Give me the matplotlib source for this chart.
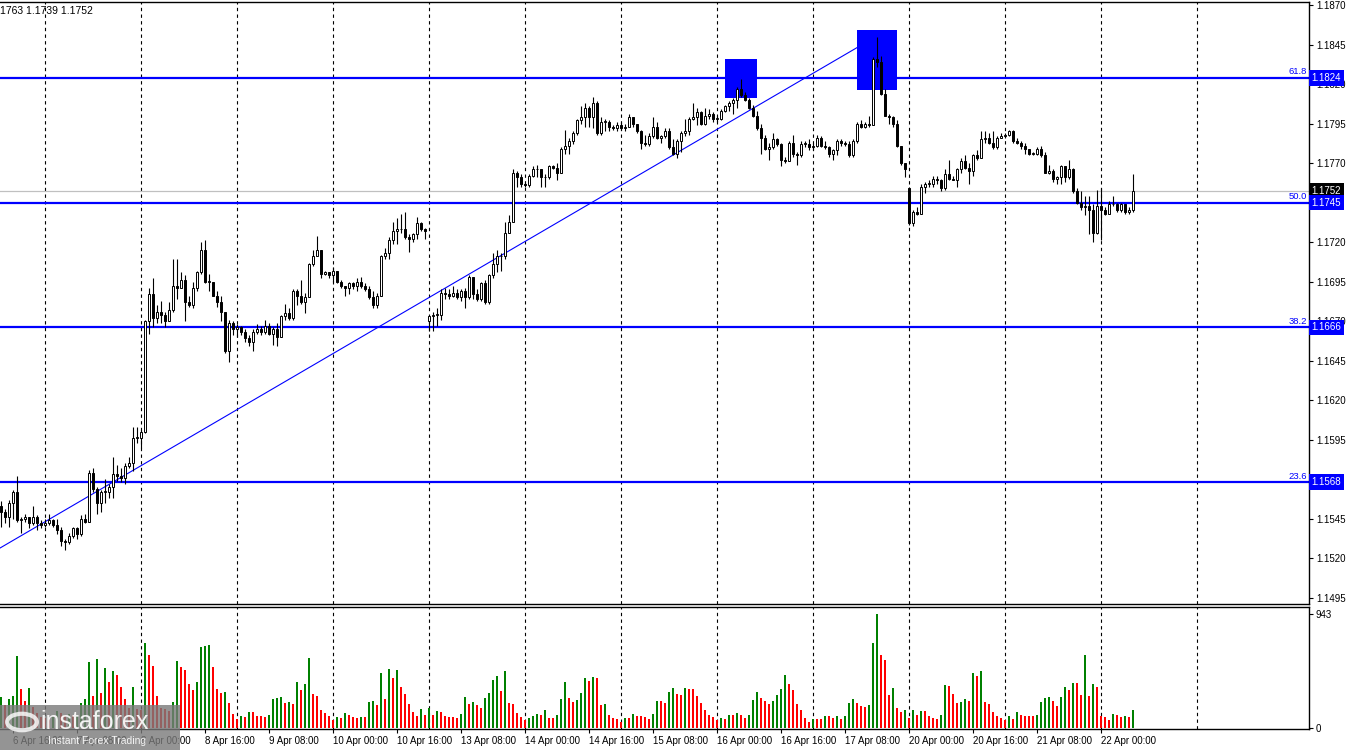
import matplotlib
matplotlib.use("Agg")
import matplotlib.pyplot as plt
import matplotlib.transforms as mtransforms
from matplotlib.patches import Rectangle, Circle
import numpy as np

# EURUSD H1, 6 Apr 13:00 .. 22 Apr 08:00 (one value per hourly candle)
# prices kept in pips above 1.1000, e.g. 549 -> 1.1549
close_pips = [
    549, 546, 555, 562, 544, 545, 546, 542, 546, 542,
    541, 542, 544, 541, 538, 531, 530, 534, 539, 535,
    545, 543, 574, 564, 555, 562, 562, 565, 573, 572,
    571, 578, 580, 596, 596, 600, 670, 687, 672, 676,
    674, 670, 677, 692, 691, 696, 682, 680, 691, 701,
    715, 695, 695, 686, 682, 676, 651, 669, 665, 666,
    663, 659, 657, 663, 665, 663, 667, 662, 665, 660,
    673, 675, 672, 689, 686, 682, 685, 706, 711, 715,
    700, 701, 699, 702, 695, 692, 691, 694, 692, 695,
    692, 690, 685, 680, 686, 711, 713, 721, 727, 728,
    728, 723, 722, 725, 732, 728, 727, 673, 674, 674,
    688, 687, 686, 688, 685, 689, 685, 698, 687, 684,
    694, 682, 699, 706, 711, 711, 726, 733, 764, 761,
    757, 756, 762, 766, 766, 761, 761, 768, 767, 764,
    779, 781, 784, 789, 797, 799, 805, 799, 808, 789,
    796, 796, 793, 792, 794, 792, 793, 799, 795, 790,
    783, 782, 787, 793, 786, 787, 790, 780, 776, 784,
    789, 790, 798, 799, 802, 795, 800, 801, 798, 798,
    803, 806, 808, 810, 817, 813, 810, 805, 800, 792,
    786, 779, 780, 785, 782, 772, 771, 783, 776, 775,
    782, 782, 780, 781, 786, 781, 780, 776, 778, 784,
    783, 782, 775, 784, 795, 793, 795, 794, 836, 834,
    814, 800, 799, 795, 781, 770, 766, 732, 739, 738,
    755, 757, 757, 760, 759, 754, 763, 760, 759, 766,
    771, 767, 765, 775, 773, 785, 786, 783, 780, 786,
    787, 788, 790, 784, 783, 781, 779, 776, 776, 779,
    775, 764, 765, 760, 761, 768, 761, 766, 752, 745,
    742, 743, 740, 726, 743, 740, 738, 744, 744, 740,
    744, 739, 740, 752,
]
high_pips = [
    556, 551, 557, 563, 572, 546, 548, 546, 553, 547,
    544, 545, 548, 545, 545, 540, 532, 536, 540, 540,
    547, 548, 576, 577, 565, 563, 570, 567, 584, 579,
    577, 580, 584, 603, 603, 601, 671, 691, 697, 680,
    683, 676, 682, 709, 709, 701, 699, 686, 695, 702,
    720, 721, 700, 695, 689, 686, 676, 671, 670, 668,
    667, 665, 661, 665, 668, 667, 671, 669, 666, 669,
    674, 681, 678, 690, 690, 696, 688, 707, 715, 724,
    715, 702, 701, 704, 702, 696, 692, 695, 695, 697,
    698, 694, 692, 689, 688, 712, 716, 723, 733, 735,
    738, 739, 725, 726, 736, 733, 729, 674, 676, 678,
    690, 691, 690, 692, 690, 690, 691, 699, 698, 690,
    695, 696, 700, 713, 715, 713, 733, 737, 766, 765,
    763, 758, 763, 768, 769, 766, 763, 769, 769, 770,
    780, 791, 786, 790, 798, 806, 808, 806, 812, 809,
    799, 798, 797, 794, 796, 796, 795, 801, 799, 795,
    791, 788, 789, 799, 796, 788, 792, 792, 785, 785,
    790, 798, 799, 808, 805, 803, 805, 804, 802, 800,
    804, 807, 809, 811, 818, 823, 815, 811, 807, 803,
    795, 788, 783, 789, 786, 783, 774, 784, 788, 777,
    784, 784, 785, 783, 788, 787, 784, 781, 779, 785,
    785, 784, 784, 785, 796, 797, 796, 800, 837, 850,
    838, 817, 801, 800, 797, 779, 770, 755, 740, 742,
    757, 758, 759, 762, 762, 760, 766, 772, 762, 767,
    773, 775, 770, 776, 778, 790, 790, 789, 790, 787,
    789, 789, 791, 791, 786, 784, 783, 779, 777, 780,
    781, 777, 769, 766, 762, 769, 768, 772, 767, 754,
    752, 749, 749, 744, 753, 754, 742, 746, 749, 745,
    745, 742, 742, 763,
]
low_pips = [
    540, 542, 540, 545, 543, 536, 543, 539, 541, 538,
    539, 540, 541, 540, 535, 528, 525, 529, 533, 532,
    534, 542, 543, 562, 548, 549, 555, 558, 558, 569,
    568, 567, 577, 575, 593, 590, 599, 662, 666, 669,
    669, 666, 671, 676, 684, 695, 670, 679, 678, 689,
    700, 694, 689, 686, 679, 670, 650, 644, 661, 660,
    661, 657, 654, 651, 662, 661, 662, 661, 655, 654,
    663, 671, 671, 671, 680, 681, 675, 685, 705, 711,
    697, 699, 697, 695, 694, 691, 686, 687, 690, 689,
    691, 689, 684, 678, 678, 686, 709, 709, 719, 719,
    726, 722, 714, 720, 722, 727, 722, 664, 664, 667,
    671, 684, 684, 685, 684, 683, 678, 684, 684, 683,
    683, 681, 681, 697, 701, 702, 709, 726, 733, 755,
    755, 755, 755, 761, 761, 755, 755, 760, 766, 759,
    764, 776, 776, 782, 788, 795, 793, 793, 792, 788,
    788, 790, 790, 791, 790, 791, 790, 794, 793, 789,
    779, 781, 781, 786, 785, 783, 786, 779, 775, 773,
    777, 787, 788, 797, 794, 794, 794, 798, 796, 796,
    797, 802, 803, 801, 805, 812, 809, 804, 799, 791,
    776, 778, 772, 779, 781, 768, 770, 771, 774, 769,
    774, 780, 778, 778, 780, 780, 779, 774, 772, 775,
    781, 781, 774, 774, 783, 792, 792, 793, 794, 831,
    813, 800, 795, 793, 780, 769, 761, 731, 730, 737,
    738, 751, 755, 755, 757, 752, 753, 759, 759, 755,
    764, 766, 757, 762, 772, 773, 783, 782, 779, 779,
    786, 786, 787, 783, 782, 779, 776, 775, 775, 775,
    774, 764, 763, 758, 757, 757, 758, 760, 751, 744,
    740, 737, 725, 720, 725, 721, 737, 738, 743, 739,
    739, 738, 738, 739,
]
first_open_pips = 553
gap_open_pips = {107: 670, 227: 754}   # Monday opens after weekend gaps

volumes = [
    254, 190, 240, 265, 596, 323, 223, 328, 171, 121,
    94, 80, 66, 94, 141, 121, 108, 112, 104, 110,
    204, 240, 546, 265, 571, 292, 496, 383, 471, 438,
    339, 240, 163, 339, 160, 149, 703, 604, 513, 265,
    163, 157, 141, 215, 554, 505, 480, 364, 314, 380,
    670, 678, 686, 505, 323, 289, 298, 204, 116, 74,
    99, 91, 132, 132, 99, 99, 91, 108, 240, 248,
    256, 207, 215, 199, 380, 314, 364, 579, 281, 265,
    149, 124, 99, 66, 91, 83, 124, 108, 91, 83,
    91, 91, 215, 223, 190, 455, 240, 488, 414, 480,
    339, 281, 199, 132, 99, 157, 108, 165, 108, 141,
    132, 99, 94, 94, 83, 116, 256, 199, 215, 190,
    165, 248, 289, 397, 430, 306, 471, 207, 199, 124,
    91, 66, 83, 99, 116, 108, 149, 83, 83, 108,
    240, 380, 248, 215, 234, 289, 414, 389, 422, 414,
    190, 199, 108, 83, 74, 50, 83, 83, 116, 99,
    99, 91, 74, 116, 223, 223, 207, 298, 331, 281,
    273, 331, 323, 323, 265, 207, 146, 108, 91, 66,
    83, 74, 108, 108, 121, 108, 83, 108, 232, 298,
    245, 226, 199, 223, 273, 323, 438, 364, 314, 199,
    149, 83, 50, 74, 74, 74, 99, 99, 83, 99,
    74, 99, 207, 240, 207, 182, 174, 190, 703, 943,
    604, 562, 273, 331, 165, 132, 149, 83, 149, 108,
    141, 141, 99, 83, 74, 108, 356, 347, 281, 207,
    215, 240, 223, 455, 430, 471, 215, 199, 132, 99,
    83, 66, 99, 74, 132, 108, 99, 99, 99, 108,
    215, 248, 256, 223, 182, 256, 339, 314, 372, 372,
    273, 604, 265, 364, 339, 99, 91, 66, 116, 108,
    91, 99, 91, 149,
]

# day separators (candle index of 00:00) and time labels (every 16 bars)
day_starts = [11, 35, 59, 83, 107, 131, 155, 179, 203, 227, 251, 275, 299]
label_idx = [3, 19, 35, 51, 67, 83, 99, 115, 131, 147, 163, 179, 195, 211, 227, 243, 259, 275]
label_txt = ["6 Apr 16:00", "7 Apr 08:00", "8 Apr 00:00", "8 Apr 16:00", "9 Apr 08:00",
             "10 Apr 00:00", "10 Apr 16:00", "13 Apr 08:00", "14 Apr 00:00", "14 Apr 16:00",
             "15 Apr 08:00", "16 Apr 00:00", "16 Apr 16:00", "17 Apr 08:00", "20 Apr 00:00",
             "20 Apr 16:00", "21 Apr 08:00", "22 Apr 00:00"]

fib_levels = [1.1824, 1.1745, 1.1666, 1.1568]
fib_names = ["61.8", "50.0", "38.2", "23.6"]
last_price = 1.1752

# analyst drawings: trend line and two marker boxes (candle index, price)
trend_idx = [-1.0, 214.25]
trend_px = [1.15253, 1.18434]
boxes = [(181.0, 189.0, 1.18112, 1.18358), (213.9, 224.0, 1.18162, 1.18542)]

BLUE = "#0000ff"
plt.rcParams["font.family"] = ["Liberation Sans", "DejaVu Sans"]

c = 1.1 + np.array(close_pips) / 1e4
o = np.r_[1.1 + first_open_pips / 1e4, c[:-1]]
for k, v in gap_open_pips.items():
    o[k] = 1.1 + v / 1e4
h = np.maximum(1.1 + np.array(high_pips) / 1e4, np.maximum(o, c))
l = np.minimum(1.1 + np.array(low_pips) / 1e4, np.minimum(o, c))
x = np.arange(len(c))

fig = plt.figure(figsize=(13.5, 7.5), dpi=100)
ax = fig.add_axes([0, 1 - 604 / 750, 1309 / 1350, 602 / 750])
axv = fig.add_axes([0, 1 - 729 / 750, 1309 / 1350, 122 / 750])

for a in (ax, axv):
    a.set_xlim(-0.25, 327)
    a.spines["left"].set_visible(False)
    for s in ("top", "right", "bottom"):
        a.spines[s].set_linewidth(1.0)
    for d in day_starts:
        a.axvline(d, color="black", lw=0.8, ls=(0, (3, 3)), zorder=1)

# price panel
ax.set_ylim(1.14910, 1.18719)
ax.axhline(last_price, color="#c0c0c0", lw=0.9, zorder=1)
for lv in fib_levels:
    ax.axhline(lv, color=BLUE, lw=1.6, zorder=2)
for x0, x1, p0, p1 in boxes:
    ax.add_patch(Rectangle((x0, p0), x1 - x0, p1 - p0, facecolor=BLUE, edgecolor="none", zorder=2))
ax.plot(trend_idx, trend_px, color=BLUE, lw=0.8, zorder=2)

up = c >= o
ax.vlines(x, l, h, color="black", lw=0.8, zorder=3)
body = np.maximum(np.abs(c - o), 0.00004)
ax.bar(x, body, bottom=np.minimum(o, c), width=0.62,
       color=np.where(up, "white", "black"), edgecolor="black", linewidth=0.7, zorder=4)

# price scale; labels sitting under the level boxes are hidden like in the terminal
yt = np.arange(1.1495, 1.18701, 0.0025)
hidden = [1.1745, 1.1570]
ax.yaxis.tick_right()
ax.set_yticks(yt)
ax.set_yticklabels(["" if any(abs(v - hv) < 1e-6 for hv in hidden) else f"{v:.4f}" for v in yt])
ax.tick_params(axis="y", direction="out", length=3, labelsize=7, pad=2)
ax.set_xticks([])

blend = mtransforms.blended_transform_factory(ax.transAxes, ax.transData)
for lv, nm in zip(fib_levels, fib_names):
    ax.text(0.9985, lv + 0.00008, nm, transform=blend, ha="right", va="bottom",
            color=BLUE, fontsize=6.8, zorder=6)
    ax.text(1.0019, lv, f"{lv:.4f}", transform=blend, ha="left", va="center", color="white",
            fontsize=7, clip_on=False, zorder=6,
            bbox=dict(boxstyle="square,pad=0.3", fc=BLUE, ec="none"))
ax.text(1.0019, last_price + 0.00005, f"{last_price:.4f}", transform=blend, ha="left",
        va="center", color="white", fontsize=7, clip_on=False, zorder=5,
        bbox=dict(boxstyle="square,pad=0.3", fc="black", ec="none"))

fig.text(0.0, 1 - 11 / 750, "1763 1.1739 1.1752", fontsize=7.5, va="center", ha="left")

# volume panel
vol = np.array(volumes)
vcol = ["#008000" if i > 0 and vol[i] > vol[i - 1] else "#ff0000" for i in range(len(vol))]
vcol[0] = "#008000"
axv.bar(x, vol, width=0.7, color=vcol, zorder=3)
axv.set_ylim(-8, 1001)
axv.yaxis.tick_right()
axv.set_yticks([0, 943])
axv.set_yticklabels(["0", "943"])
axv.tick_params(axis="y", direction="out", length=3, labelsize=7, pad=2)
axv.set_xticks(label_idx)
axv.set_xticklabels(label_txt, ha="left")
axv.tick_params(axis="x", direction="out", length=3, labelsize=7, pad=2)

# watermark
fig.patches.append(Rectangle((0, 0), 180 / 1350, 45 / 750, transform=fig.transFigure,
                             facecolor="#7a7a7a", alpha=0.8, edgecolor="none", zorder=10))
fig.patches.append(Circle((22 / 1350, 1 - 722 / 750), 0.011, transform=fig.transFigure,
                          facecolor="none", edgecolor="white", lw=3, alpha=0.8, zorder=11))
fig.text(40 / 1350, 1 - 722 / 750, "instaforex", color="white", fontsize=18, va="center",
         ha="left", zorder=12, alpha=0.9)
fig.text(48 / 1350, 1 - 741 / 750, "Instant Forex Trading", color="white", fontsize=7.5,
         va="center", ha="left", zorder=12, alpha=0.9)

fig.savefig("out.png", dpi=100)
